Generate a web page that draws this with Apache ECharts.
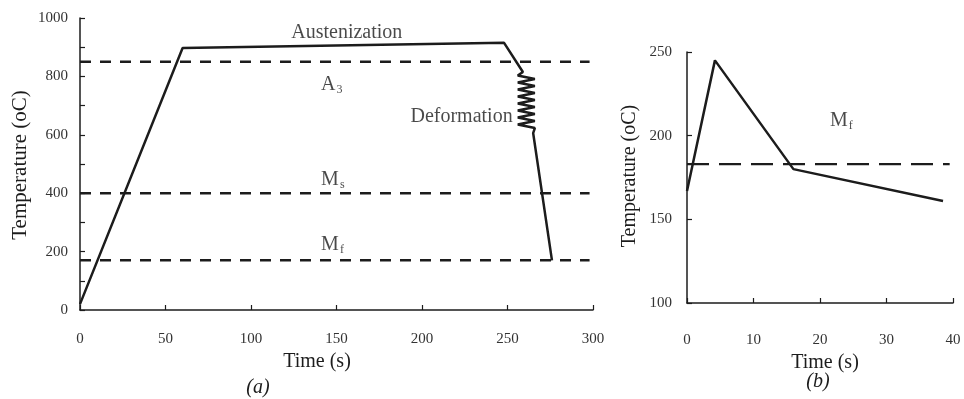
<!DOCTYPE html>
<html>
<head>
<meta charset="utf-8">
<script src="https://cdn.jsdelivr.net/npm/echarts@6/dist/echarts.min.js"></script>
<style>html,body{margin:0;padding:0;background:#fff}#c{width:964px;height:399px}</style>
</head>
<body>
<div id="c"></div>
<script>
// ---- Panel (a) data ----
const timeA = [0, 60, 248, 259, 256, 266, 256, 266, 256, 266, 256, 266, 256, 266, 256, 266, 256, 266, 256, 266, 265, 276];
const tempA = [20, 897, 915, 815, 803, 791, 779, 767, 755, 743, 731, 719, 707, 695, 683, 671, 659, 647, 635, 623, 606, 170];
const levelA3 = 850;
const levelMs = 400;
const levelMf = 170;
const levelSpanA = [0, 298];
const xTicksA = [0, 50, 100, 150, 200, 250, 300];
const yTicksA = [0, 200, 400, 600, 800, 1000];

// ---- Panel (b) data ----
const timeB = [0, 4.2, 16, 38.5];
const tempB = [167, 245, 180, 161];
const levelMfB = 183;
const levelSpanB = [0, 39.5];
const xTicksB = [0, 10, 20, 30, 40];
const yTicksB = [100, 150, 200, 250];

// ---- annotations (data coordinates) ----
const annA = [
  {text: 'Austenization', t: 156, T: 949, align: 'center'},
  {text: '{b|A}{s|3}', t: 141, T: 771, align: 'left'},
  {text: 'Deformation', t: 253, T: 661, align: 'right'},
  {text: '{b|M}{s|s}', t: 141, T: 445, align: 'left'},
  {text: '{b|M}{s|f}', t: 141, T: 222, align: 'left'}
];
const annB = [
  {text: '{b|M}{s|f}', t: 21.5, T: 209, align: 'left'}
];

const FONT = 'Liberation Serif';
const INK = '#1c1c1c';
const rich = {
  b: {fontSize: 20, fontFamily: FONT, color: INK},
  s: {fontSize: 12, fontFamily: FONT, color: INK, verticalAlign: 'bottom', padding: [10, 0, 0, 1]}
};

function zip(a, b) { return a.map((v, i) => [v, b[i]]); }
function level(span, v) { return span.map(t => [t, v]); }
function annSeries(list, xi, yi) {
  return {
    type: 'scatter', xAxisIndex: xi, yAxisIndex: yi, symbolSize: 0, silent: true, z: 5,
    data: list.map(a => ({
      value: [a.t, a.T],
      label: {show: true, position: 'inside', formatter: a.text, align: a.align,
              fontSize: 20, fontFamily: FONT, color: INK, rich: rich}
    }))
  };
}

const axisCommon = {
  axisLine: {show: true, onZero: false, lineStyle: {color: INK, width: 1.5}},
  axisTick: {show: true, inside: true, length: 5, lineStyle: {color: INK, width: 1.2}},
  splitLine: {show: false},
  axisLabel: {fontFamily: FONT, fontSize: 15, color: '#333', formatter: v => String(v)}
};

const chart = echarts.init(document.getElementById('c'), null, {renderer: 'canvas'});
chart.setOption({
  backgroundColor: '#fff',
  animation: false,
  grid: [
    {left: 80, top: 18, width: 513, height: 292},
    {left: 687, top: 52, width: 266, height: 251}
  ],
  xAxis: [
    Object.assign({}, axisCommon, {gridIndex: 0, type: 'value', min: xTicksA[0], max: xTicksA[xTicksA.length - 1], interval: 50,
      axisLabel: Object.assign({}, axisCommon.axisLabel, {margin: 22})}),
    Object.assign({}, axisCommon, {gridIndex: 1, type: 'value', min: xTicksB[0], max: xTicksB[xTicksB.length - 1], interval: 10,
      axisLabel: Object.assign({}, axisCommon.axisLabel, {margin: 30})})
  ],
  yAxis: [
    Object.assign({}, axisCommon, {gridIndex: 0, type: 'value', min: yTicksA[0], max: yTicksA[yTicksA.length - 1], interval: 200,
      minorTick: {show: true, splitNumber: 2, length: 5, lineStyle: {color: INK, width: 1.2}},
      axisLabel: Object.assign({}, axisCommon.axisLabel, {margin: 12, padding: [8, 0, 0, 0]})}),
    Object.assign({}, axisCommon, {gridIndex: 1, type: 'value', min: yTicksB[0], max: yTicksB[yTicksB.length - 1], interval: 50,
      axisLabel: Object.assign({}, axisCommon.axisLabel, {margin: 15, padding: [0, 0, 10, 0]})})
  ],
  series: [
    {type: 'line', xAxisIndex: 0, yAxisIndex: 0, data: zip(timeA, tempA), symbol: 'none', z: 4,
     lineStyle: {color: INK, width: 2.5}},
    {type: 'line', xAxisIndex: 0, yAxisIndex: 0, data: level(levelSpanA, levelA3), symbol: 'none',
     lineStyle: {color: INK, width: 2.5, type: [11, 9]}},
    {type: 'line', xAxisIndex: 0, yAxisIndex: 0, data: level(levelSpanA, levelMs), symbol: 'none',
     lineStyle: {color: INK, width: 2.5, type: [11, 9]}},
    {type: 'line', xAxisIndex: 0, yAxisIndex: 0, data: level(levelSpanA, levelMf), symbol: 'none',
     lineStyle: {color: INK, width: 2.5, type: [11, 9]}},
    {type: 'line', xAxisIndex: 1, yAxisIndex: 1, data: zip(timeB, tempB), symbol: 'none', z: 4,
     lineStyle: {color: INK, width: 2.5}},
    {type: 'line', xAxisIndex: 1, yAxisIndex: 1, data: level(levelSpanB, levelMfB), symbol: 'none',
     lineStyle: {color: INK, width: 2.3, type: [22, 10]}},
    annSeries(annA, 0, 0),
    annSeries(annB, 1, 1)
  ],
  graphic: [
    {type: 'text', position: [20, 165], rotation: Math.PI / 2,
     style: {text: 'Temperature (oC)', font: '21px "Liberation Serif"', fill: INK, align: 'center', verticalAlign: 'middle'}},
    {type: 'text', position: [630, 176], rotation: Math.PI / 2,
     style: {text: 'Temperature (oC)', font: '20px "Liberation Serif"', fill: INK, align: 'center', verticalAlign: 'middle'}},
    {type: 'text', position: [317, 362],
     style: {text: 'Time (s)', font: '20px "Liberation Serif"', fill: INK, align: 'center', verticalAlign: 'middle'}},
    {type: 'text', position: [825, 363],
     style: {text: 'Time (s)', font: '20px "Liberation Serif"', fill: INK, align: 'center', verticalAlign: 'middle'}},
    {type: 'text', position: [258, 388],
     style: {text: '(a)', font: 'italic 20px "Liberation Serif"', fill: INK, align: 'center', verticalAlign: 'middle'}},
    {type: 'text', position: [818, 382],
     style: {text: '(b)', font: 'italic 20px "Liberation Serif"', fill: INK, align: 'center', verticalAlign: 'middle'}}
  ]
});
</script>
</body>
</html>
